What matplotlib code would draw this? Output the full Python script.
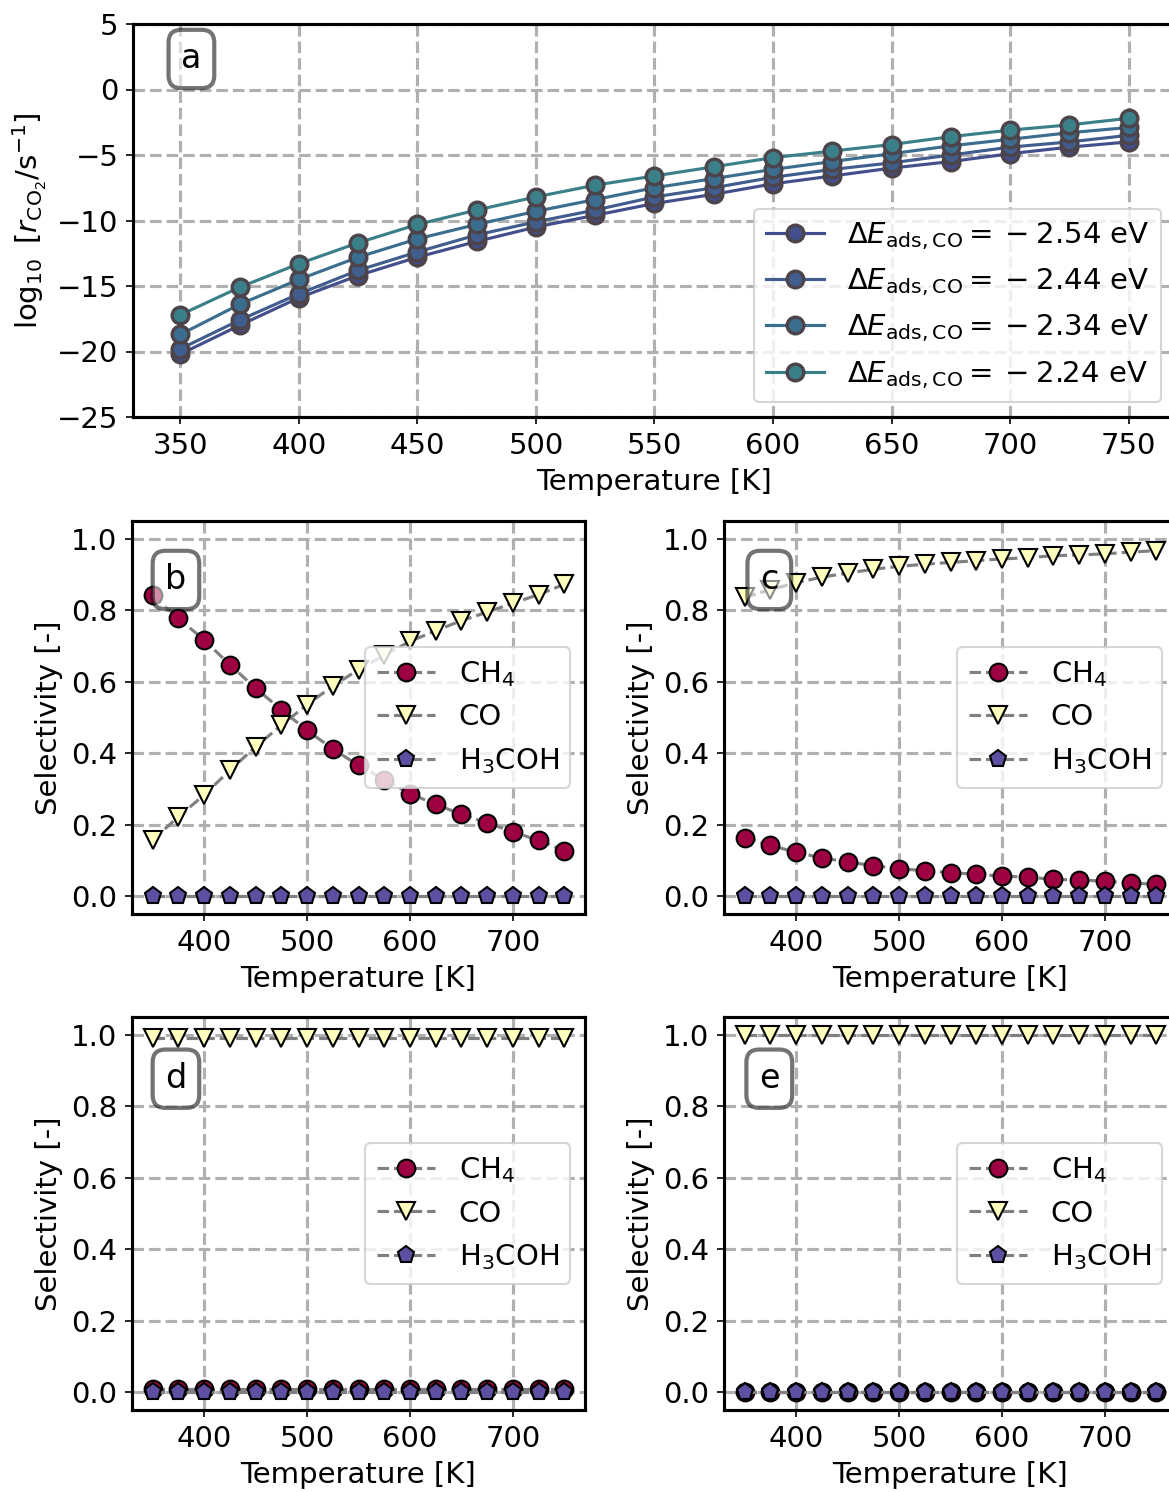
import numpy as np
import matplotlib
matplotlib.use("Agg")
import matplotlib.pyplot as plt

# temperatures [K]
temps = [350, 375, 400, 425, 450, 475, 500, 525, 550, 575, 600, 625, 650, 675, 700, 725, 750]

# panel a: log10 rate for each CO adsorption energy
e_ads = [-2.54, -2.44, -2.34, -2.24]
rate_254 = [-20.2, -18.0, -15.9, -14.2, -12.8, -11.6, -10.5, -9.6, -8.7, -8.0, -7.2, -6.6, -6.0, -5.5, -4.9, -4.4, -4.0]
rate_244 = [-19.8, -17.6, -15.6, -13.8, -12.4, -11.1, -10.1, -9.2, -8.2, -7.5, -6.7, -6.1, -5.6, -5.0, -4.4, -4.0, -3.5]
rate_234 = [-18.7, -16.4, -14.5, -12.8, -11.4, -10.3, -9.3, -8.4, -7.5, -6.8, -6.1, -5.5, -4.9, -4.3, -3.8, -3.3, -2.9]
rate_224 = [-17.2, -15.1, -13.3, -11.7, -10.3, -9.2, -8.2, -7.3, -6.6, -5.9, -5.2, -4.7, -4.2, -3.6, -3.1, -2.7, -2.2]
rates = [rate_254, rate_244, rate_234, rate_224]
rate_colors = ['#434e8c', '#405d8e', '#3b6e8e', '#3b8089']

# panels b-e: selectivities
ch4_b = [0.843, 0.778, 0.717, 0.648, 0.582, 0.522, 0.464, 0.412, 0.366, 0.326, 0.287, 0.257, 0.229, 0.205, 0.180, 0.156, 0.127]
co_b = [0.157, 0.222, 0.283, 0.352, 0.418, 0.478, 0.536, 0.588, 0.634, 0.674, 0.713, 0.743, 0.771, 0.795, 0.820, 0.844, 0.873]
ch4_c = [0.164, 0.142, 0.123, 0.107, 0.096, 0.085, 0.077, 0.071, 0.066, 0.061, 0.056, 0.053, 0.047, 0.045, 0.042, 0.037, 0.033]
co_c = [0.836, 0.858, 0.877, 0.893, 0.904, 0.915, 0.923, 0.929, 0.934, 0.939, 0.944, 0.947, 0.953, 0.955, 0.958, 0.963, 0.967]
ch4_d = [0.009, 0.009, 0.009, 0.009, 0.009, 0.009, 0.009, 0.009, 0.009, 0.009, 0.009, 0.009, 0.009, 0.009, 0.009, 0.009, 0.009]
co_d = [0.991, 0.991, 0.991, 0.991, 0.991, 0.991, 0.991, 0.991, 0.991, 0.991, 0.991, 0.991, 0.991, 0.991, 0.991, 0.991, 0.991]
ch4_e = [0.0] * 17
co_e = [1.0] * 17
meoh = [0.0] * 17

products = ['CH$_4$', 'CO', 'H$_3$COH']
prod_markers = ['o', 'v', 'p']
prod_colors = [plt.cm.Spectral(0.0), plt.cm.Spectral(0.5), plt.cm.Spectral(1.0)]

plt.rcParams['font.size'] = 14
plt.rcParams['axes.linewidth'] = 1.5

W, H = 1169, 1492
fig = plt.figure(figsize=(W / 150, H / 150), dpi=150)


def box(left, top, width, height):
    return [left / W, 1 - (top + height) / H, width / W, height / H]


def panel_label(ax, txt, x, y):
    ax.text(x, y, txt, transform=ax.transAxes, fontsize=16, ha='center', va='center',
            bbox=dict(boxstyle='round,pad=0.38', facecolor='white', edgecolor='black', alpha=0.55, linewidth=2))


def style(ax):
    ax.grid(True, linestyle='--', linewidth=1.5, color='#b0b0b0')
    ax.set_xlim(330, 770)


# ---- panel a
ax_a = fig.add_axes(box(133, 24, 1043, 393))
for e, r, c in zip(e_ads, rates, rate_colors):
    ax_a.plot(temps, r, '-o', color=c, lw=1.5, ms=8, mfc=c, mec='#4d434a', mew=1.6,
              label=r'$\Delta E_{\mathrm{ads,CO}} =\:-\:%.2f$ eV' % abs(e))
style(ax_a)
ax_a.set_ylim(-25, 5)
ax_a.set_xticks(np.arange(350, 751, 50))
ax_a.set_yticks(np.arange(-25, 6, 5))
ax_a.set_xlabel('Temperature [K]')
ax_a.set_ylabel(r'$\log_{10}\ [r_{\mathrm{CO_2}}/\mathrm{s}^{-1}]$')
ax_a.legend(loc='lower right')
panel_label(ax_a, 'a', 0.056, 0.911)

# ---- panels b-e
sel_data = {
    'b': (ch4_b, co_b, meoh, 132, 521),
    'c': (ch4_c, co_c, meoh, 724, 521),
    'd': (ch4_d, co_d, meoh, 132, 1017),
    'e': (ch4_e, co_e, meoh, 724, 1017),
}
for name, (ch4, co, me, left, top) in sel_data.items():
    ax = fig.add_axes(box(left, top, 453, 393))
    for vals, lab, m, c in zip([ch4, co, me], products, prod_markers, prod_colors):
        ax.plot(temps, vals, linestyle='--', color='gray', lw=1.5, marker=m, ms=8.5,
                mfc=c, mec='black', mew=1, label=lab)
    style(ax)
    ax.set_ylim(-0.05, 1.05)
    ax.set_yticks(np.arange(0, 1.01, 0.2))
    ax.set_xticks([400, 500, 600, 700])
    ax.set_xlabel('Temperature [K]')
    ax.set_ylabel('Selectivity [-]')
    ax.legend(loc='center right')
    panel_label(ax, name, 0.097 if name in 'bd' else 0.10, 0.85 if name in 'bc' else 0.843)

fig.savefig('out.png', dpi=150)
